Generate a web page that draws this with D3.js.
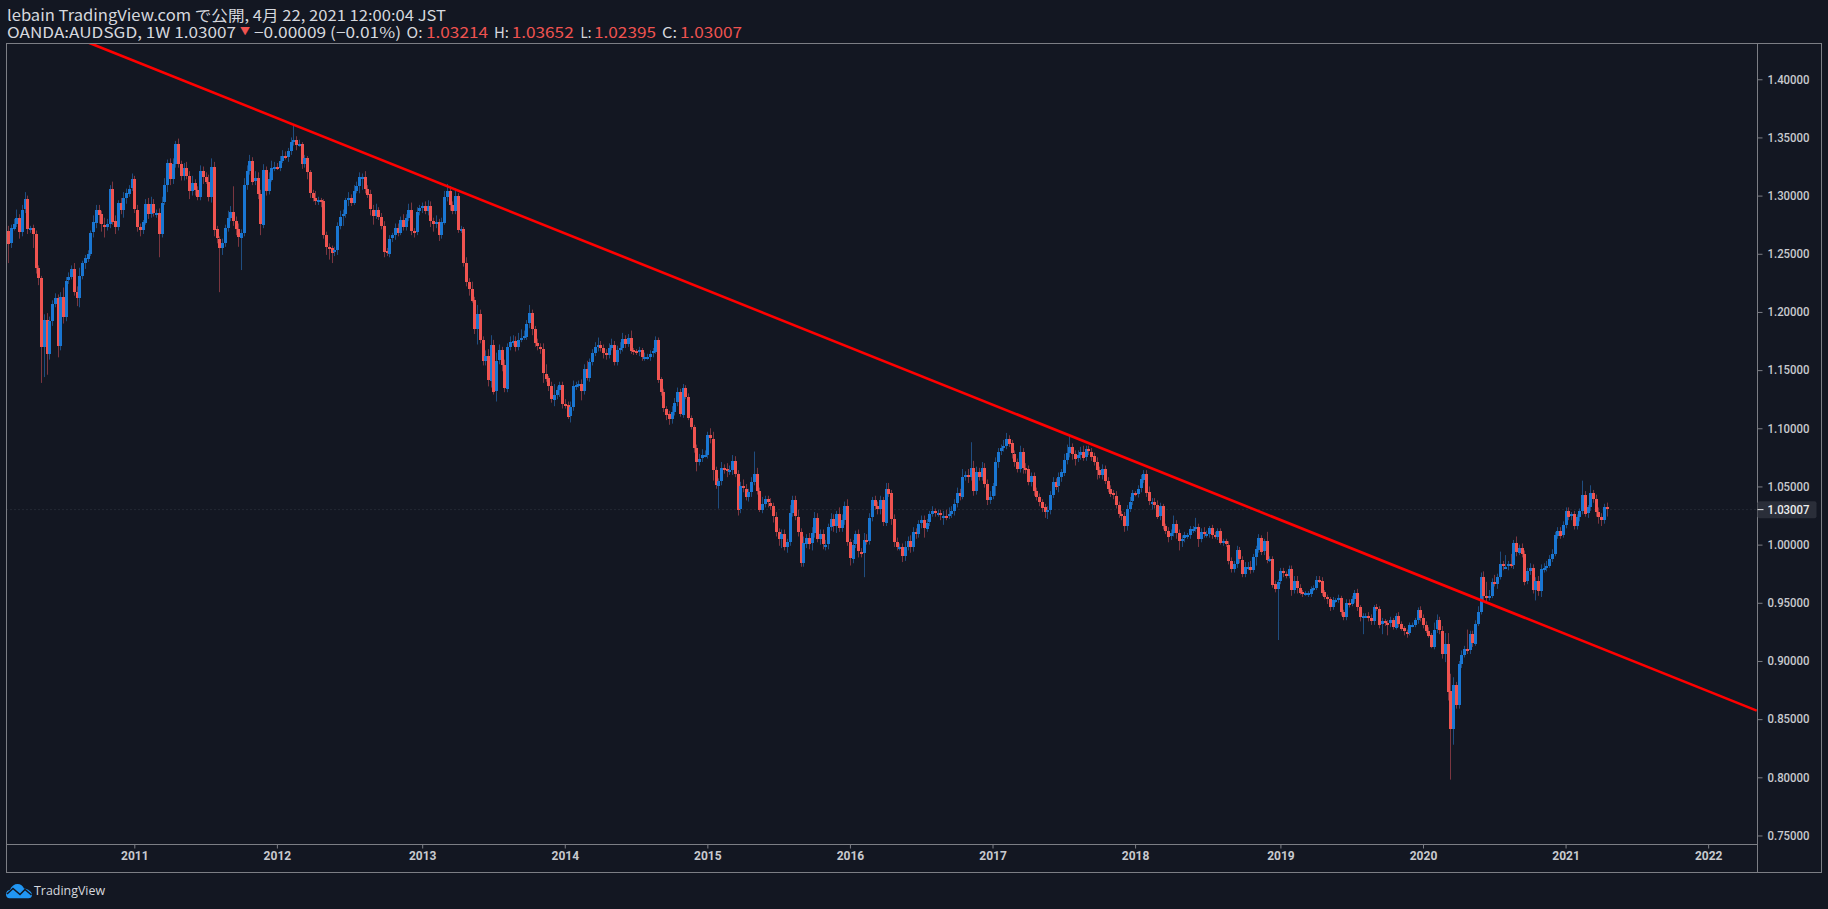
<!DOCTYPE html>
<html>
<head>
<meta charset="utf-8">
<title>AUDSGD</title>
<script src="https://cdn.jsdelivr.net/npm/d3@7"></script>
<style>
	html, body { margin: 0; padding: 0; background: #131722; }
	svg { display: block; }
	.tick text { font-family: Roboto, sans-serif; fill: #c8cacf; }
	.head { font-family: "Noto Sans CJK JP", sans-serif; font-size: 15px; fill: #d6d8de; }
</style>
</head>
<body>
<div id="figure"></div>
<script>
// weekly closes, one array per year of bars
var firstOpen = 1.253;
var closes2010 = [
	1.270,1.259,1.272,1.276,1.281,1.269,1.288,1.297,
	1.271,1.272,1.267,1.238,1.229,1.170,1.193,1.164,1.192,1.207,1.212,1.171,1.213,1.196,1.227,
	1.230,1.237,1.217,1.212,1.231,1.242,1.246,1.250,1.268,1.277,1.288,1.284,1.275,1.273,1.276,1.306,
	1.278,1.273,1.294,1.288,1.298,1.302,1.306,1.314
];
var closes2011 = [
	1.288,1.273,1.270,1.277,1.293,1.284,1.293,1.285,1.285,1.267,1.294,1.309,1.328,
	1.314,1.327,1.344,1.327,1.317,1.324,1.317,1.304,1.311,1.305,1.299,1.321,1.316,
	1.312,1.299,1.325,1.271,1.263,1.255,1.259,1.272,1.281,1.286,1.278,1.271,1.264,
	1.268,1.309,1.321,1.330,1.312,1.315,1.301,1.275,1.322,1.304,1.314,1.324,1.325
];
var closes2012 = [
	1.324,1.330,1.334,1.333,1.338,1.346,1.348,1.344,1.344,1.327,1.332,1.320,1.302,
	1.298,1.295,1.296,1.295,1.266,1.256,1.255,1.251,1.253,1.274,1.282,1.284,1.296,
	1.298,1.294,1.304,1.308,1.316,1.316,1.306,1.301,1.288,1.283,1.288,1.282,1.274,
	1.252,1.250,1.263,1.266,1.272,1.268,1.279,1.273,1.281,1.288,1.270,1.269,1.286,1.289
];
var closes2013 = [
	1.291,1.287,1.291,1.278,1.275,1.277,1.266,1.277,1.299,1.304,1.292,1.287,1.300,
	1.271,1.271,1.242,1.226,1.220,1.210,1.185,1.198,1.176,1.158,1.162,1.141,1.172,
	1.132,1.158,1.167,1.154,1.134,1.170,1.174,1.175,1.170,1.176,1.178,1.179,1.190,
	1.199,1.185,1.173,1.170,1.168,1.147,1.143,1.136,1.125,1.129,1.133,1.137,1.121
];
var closes2014 = [
	1.120,1.110,1.118,1.136,1.137,1.138,1.132,1.151,1.143,1.157,1.165,1.170,1.172,
	1.169,1.165,1.163,1.169,1.172,1.157,1.167,1.169,1.177,1.173,1.178,1.167,1.166,
	1.165,1.167,1.161,1.161,1.161,1.164,1.166,1.176,1.142,1.131,1.117,1.112,1.108,
	1.114,1.122,1.131,1.112,1.135,1.127,1.109,1.101,1.083,1.071,1.074,1.077,1.077
];
var closes2015 = [
	1.094,1.091,1.064,1.051,1.055,1.066,1.065,1.063,1.064,1.072,1.061,1.030,1.050,
	1.048,1.041,1.045,1.054,1.061,1.046,1.030,1.035,1.039,1.036,1.033,1.024,1.011,
	1.005,1.009,0.998,1.002,1.027,1.038,1.024,1.011,0.984,1.001,1.006,1.001,1.010,
	1.023,1.005,1.009,1.000,1.000,1.015,1.022,1.016,1.026,1.014,1.021,1.033,1.002
];
var closes2016 = [
	0.988,1.000,1.009,0.994,0.993,1.004,1.003,1.023,1.038,1.033,1.030,1.038,1.019,
	1.048,1.044,1.022,1.002,0.998,0.998,0.990,0.998,1.003,0.998,1.011,1.009,1.018,
	1.021,1.014,1.019,1.026,1.029,1.027,1.027,1.025,1.025,1.024,1.026,1.029,1.035,
	1.044,1.041,1.058,1.060,1.058,1.066,1.046,1.062,1.058,1.066,1.052,1.038,1.041
];
var closes2017 = [
	1.050,1.071,1.080,1.083,1.085,1.091,1.087,1.078,1.071,1.065,1.080,1.066,1.065,
	1.054,1.059,1.046,1.041,1.037,1.032,1.028,1.030,1.043,1.054,1.050,1.058,1.062,
	1.073,1.079,1.084,1.078,1.074,1.077,1.080,1.075,1.082,1.080,1.076,1.071,1.064,
	1.060,1.065,1.055,1.048,1.044,1.042,1.034,1.026,1.025,1.016,1.031,1.037,1.044
];
var closes2018 = [
	1.0435,1.048,1.056,1.061,1.045,1.037,1.037,1.034,1.024,1.033,1.016,1.012,1.007,
	1.010,1.018,1.010,1.003,1.005,1.008,1.008,1.013,1.013,1.015,1.005,1.011,1.009,
	1.009,1.014,1.008,1.007,1.012,1.002,1.003,1.000,0.986,0.979,0.983,0.995,0.987,
	0.975,0.981,0.981,0.978,0.989,0.996,1.006,0.994,1.003,0.987,0.988,0.966,0.962
];
var closes2019 = [
	0.968,0.977,0.975,0.973,0.979,0.961,0.969,0.963,0.959,0.958,0.958,0.958,0.962,
	0.963,0.970,0.969,0.959,0.955,0.953,0.946,0.952,0.952,0.954,0.942,0.938,0.950,
	0.949,0.953,0.958,0.946,0.937,0.939,0.939,0.937,0.934,0.946,0.945,0.931,0.934,
	0.933,0.932,0.935,0.929,0.939,0.932,0.928,0.925,0.924,0.931,0.931,0.935,0.944,0.937
];
var closes2020 = [
	0.931,0.926,0.922,0.912,0.927,0.935,0.926,0.906,0.915,0.874,0.841,0.879,0.862,
	0.897,0.905,0.910,0.909,0.923,0.915,0.932,0.942,0.972,0.956,0.954,0.956,0.968,
	0.966,0.972,0.983,0.981,0.981,0.983,0.982,1.001,0.993,0.997,0.992,0.968,0.977,
	0.980,0.961,0.969,0.960,0.979,0.980,0.982,0.988,0.992,1.008,1.012,1.008,1.017
];
var closes2021 = [1.029,1.024,1.026,1.016,1.024,1.029,1.043,1.027,1.032,1.044,1.039,1.028,1.024,1.021,1.0321,1.03007];

// wick length above / below the body, in thousandths, same order as the closes
var upperWicks = [
	3,4,3,4,7,3,4,6,3,2,3,3,2,2,5,6,4,3,4,3,4,8,3,4,3,5,5,7,2,3,3,2,6,4,4,3,6,4,3,6,5,2,4,5,4,3,5,
	3,4,3,2,4,5,6,4,3,4,5,6,3,4,5,3,5,3,4,5,4,6,3,3,5,4,4,6,7,4,3,2,4,3,6,5,22,4,5,3,6,5,5,3,6,5,4,5,3,6,6,4,
	3,4,5,4,3,4,12,3,4,2,3,2,2,3,6,3,2,2,3,3,2,3,3,5,4,2,5,3,5,4,4,3,5,3,4,4,5,2,3,4,3,3,2,4,4,3,5,3,5,6,2,4,3,
	3,4,5,4,3,6,3,4,5,6,4,3,6,2,3,2,5,3,6,3,8,4,3,5,6,8,4,7,5,3,5,3,5,5,4,6,7,5,3,7,3,3,4,3,5,8,2,4,9,3,3,3,
	4,3,5,5,3,3,4,4,7,3,3,4,6,3,3,3,4,5,3,4,5,5,3,3,6,2,2,3,2,4,3,3,3,3,2,2,3,2,3,5,4,4,3,3,2,3,2,2,3,4,5,4,
	3,6,6,3,2,5,3,5,4,5,4,3,4,6,4,3,4,19,5,3,6,3,3,4,3,4,3,4,4,3,7,4,4,6,3,6,3,4,5,5,4,4,4,4,3,5,4,3,6,5,4,6,
	3,4,3,4,3,6,5,4,3,4,4,4,3,5,5,3,4,4,3,3,5,4,5,4,3,3,4,4,3,3,4,2,3,3,4,5,6,4,4,5,4,7,3,5,22,6,5,4,5,4,4,5,
	3,4,3,3,5,5,3,3,3,3,5,3,4,3,3,3,3,3,2,3,3,3,4,3,4,3,5,7,9,3,3,4,4,5,3,3,3,3,4,3,4,3,3,3,3,4,3,3,3,3,4,3,
	2,3,4,3,3,5,3,3,4,3,2,2,3,3,7,3,3,3,3,2,3,3,8,3,3,4,3,2,3,3,2,2,2,2,3,3,3,4,3,3,4,4,5,3,3,3,2,2,8,2,2,3,
	2,3,3,2,3,3,4,4,3,2,2,2,2,2,3,3,3,2,2,2,3,2,3,2,2,3,3,3,3,4,2,2,2,3,3,2,3,2,3,2,2,3,2,2,3,2,2,2,2,2,2,2,3,
	3,3,3,2,6,5,3,4,9,9,15,7,3,3,4,3,17,3,3,3,5,4,5,12,5,3,6,3,11,3,10,3,9,3,6,3,4,3,3,4,3,3,4,4,4,4,3,4,3,3,3,3,
	3,3,2,3,2,2,12,3,2,7,3,4,4,3,3,4
];
var lowerWicks = [
	3,17,4,2,3,6,4,3,4,3,12,5,6,31,26,18,5,4,3,10,4,6,4,3,2,3,7,8,3,5,3,2,4,5,8,6,9,3,4,3,6,3,4,7,5,3,2,
	3,4,5,3,2,4,3,3,4,20,3,2,6,5,4,3,3,4,4,3,7,4,5,3,3,6,2,4,5,6,4,38,6,3,3,3,4,5,8,28,3,4,3,3,3,4,9,3,4,3,2,3,
	2,3,2,2,4,3,3,5,2,4,3,6,4,3,3,3,5,3,7,10,9,3,4,3,8,3,5,3,2,2,6,11,4,3,5,8,3,3,3,5,2,3,3,4,3,2,3,3,3,4,5,3,3,
	4,3,4,5,6,3,5,3,2,4,5,3,3,3,3,3,4,6,2,4,13,3,4,4,5,6,3,9,3,5,3,3,3,3,4,3,2,2,3,4,5,3,3,4,8,3,4,3,6,4,6,4,
	3,2,5,3,3,2,8,3,2,3,3,3,4,3,5,4,3,2,3,3,3,3,4,3,3,3,2,3,3,3,2,3,3,2,3,3,3,5,5,4,3,3,2,3,2,2,2,4,8,3,3,2,
	3,4,9,3,20,4,4,5,3,4,3,5,3,3,3,4,4,3,3,2,3,3,4,3,5,4,6,8,3,5,3,3,3,4,3,3,4,5,6,4,3,5,4,5,4,3,5,6,3,3,4,3,
	6,4,3,5,4,21,3,3,3,3,4,4,3,3,3,5,4,3,3,5,4,3,5,4,4,3,4,8,3,3,2,3,3,4,8,3,2,3,4,3,3,2,3,5,3,4,3,3,3,3,4,3,
	2,8,5,3,3,3,3,4,4,3,3,5,4,3,4,4,3,4,4,5,6,4,3,3,5,4,3,4,4,5,6,3,4,3,3,3,4,3,8,3,4,3,3,3,3,3,3,4,5,4,3,3,
	2,3,3,3,4,3,7,3,2,3,3,3,5,3,3,5,8,5,3,3,3,3,2,7,3,3,3,3,3,2,3,2,3,2,3,3,3,3,3,3,3,3,3,2,7,3,3,3,3,2,3,3,
	44,2,3,2,2,5,3,5,2,3,2,3,3,2,2,2,3,2,4,3,2,2,2,3,3,3,3,2,3,3,3,14,2,3,3,3,2,3,8,3,10,3,2,2,3,2,3,4,2,2,2,3,3,
	3,2,2,1,2,3,3,4,7,8,43,13,3,3,3,2,3,3,3,2,2,2,4,3,2,2,2,4,2,3,2,3,2,3,3,2,3,3,2,3,3,9,4,5,3,3,2,3,2,3,3,2,
	3,3,3,3,3,4,3,3,4,3,3,4,6,5,3,6
];

var firstBar = '2010-02-08';
var lastPrice = 1.03007;
var priceTicks = [0.75,0.80,0.85,0.90,0.95,1.00,1.05,1.10,1.15,1.20,1.25,1.30,1.35,1.40];
var yearLabels = ['2011','2012','2013','2014','2015','2016','2017','2018','2019','2020','2021','2022'];
var yearDates = ['2011-01-03','2012-01-02','2013-01-07','2014-01-06','2015-01-05','2016-01-04','2017-01-02','2018-01-01','2019-01-07','2020-01-06','2021-01-04','2022-01-03'];
var trendDates = ['2010-09-09','2022-05-07'];
var trendPrices = [1.4314,0.8573];

var W = 1828, H = 909;
var left = 6.5, top_ = 43.5, axisX = 1757.5, outerR = 1821.5, axisY = 844.5, outerB = 872.5;
var BLUE = '#1976d2', RED = '#ef5350', BLUE_W = '#1f4d80', RED_W = '#7a3640', LINE = '#7c7e85';

var parse = d3.utcParse('%Y-%m-%d');
var x = d3.scaleUtc().domain([parse('2011-01-03'), parse('2021-04-19')]).range([134.3, 1606.7]);
var y = d3.scaleLinear().domain([0.80, 1.05]).range([777.3, 486.45]);

var closes = d3.merge([closes2010,closes2011,closes2012,closes2013,closes2014,closes2015,closes2016,closes2017,closes2018,closes2019,closes2020,closes2021]);
var start = parse(firstBar);
var bars = closes.map(function(c, i) {
	var o = i ? closes[i - 1] : firstOpen;
	return {
		date: d3.utcWeek.offset(start, i),
		o: o,
		c: c,
		h: Math.max(o, c) + (upperWicks[i] || 0) / 1000,
		l: Math.min(o, c) - (lowerWicks[i] || 0) / 1000
	};
});

var svg = d3.select('#figure').append('svg').attr('width', W).attr('height', H);
svg.append('rect').attr('width', W).attr('height', H).attr('fill', '#131722');
svg.append('clipPath').attr('id', 'plot').append('rect')
	.attr('x', left).attr('y', top_).attr('width', axisX - left).attr('height', axisY - top_);

// last price line sits under the bars
var plot = svg.append('g').attr('clip-path', 'url(#plot)');
plot.append('line')
	.attr('x1', left).attr('x2', axisX).attr('y1', y(lastPrice)).attr('y2', y(lastPrice))
	.attr('stroke', '#363a45').attr('stroke-dasharray', '1 3');

// wicks
plot.selectAll('line.wick').data(bars).enter().append('line')
	.attr('class', 'wick')
	.attr('x1', function(d) { return Math.round(x(d.date)) + 0.5; })
	.attr('x2', function(d) { return Math.round(x(d.date)) + 0.5; })
	.attr('y1', function(d) { return y(d.h); })
	.attr('y2', function(d) { return y(d.l); })
	.attr('stroke', function(d) { return d.c >= d.o ? BLUE_W : RED_W; });

// bodies, snapped to whole pixels so thin ones stay solid
plot.selectAll('rect.body').data(bars).enter().append('rect')
	.attr('class', 'body')
	.attr('x', function(d) { return Math.round(x(d.date)) - 1; })
	.attr('width', 3)
	.attr('y', function(d) { return Math.round(y(Math.max(d.o, d.c))); })
	.attr('height', function(d) { return Math.max(2, Math.round(Math.abs(y(d.o) - y(d.c)))); })
	.attr('shape-rendering', 'crispEdges')
	.attr('fill', function(d) { return d.c >= d.o ? BLUE : RED; });

// trend line
var line = d3.line()
	.x(function(d) { return x(parse(d.date)); })
	.y(function(d) { return y(d.price); });
plot.append('path')
	.datum(trendDates.map(function(d, i) { return {date: d, price: trendPrices[i]}; }))
	.attr('d', line)
	.attr('fill', 'none').attr('stroke', '#ff0000').attr('stroke-width', 2.6);

// frame
svg.append('rect').attr('x', left).attr('y', top_).attr('width', outerR - left).attr('height', outerB - top_)
	.attr('fill', 'none').attr('stroke', LINE);

// axes
var yAxis = d3.axisRight(y).tickValues(priceTicks).tickFormat(d3.format('.5f')).tickSize(5).tickPadding(5);
var gy = svg.append('g').attr('transform', 'translate(' + axisX + ',0)').call(yAxis);
var xAxis = d3.axisBottom(x)
	.tickValues(yearDates.map(parse))
	.tickFormat(function(d, i) { return yearLabels[i]; })
	.tickSize(4).tickPadding(3);
var gx = svg.append('g').attr('transform', 'translate(0,' + axisY + ')').call(xAxis);
gy.select('.domain').attr('d', 'M0,' + top_ + 'V' + outerB).attr('stroke', LINE);
gx.select('.domain').attr('d', 'M' + left + ',0H' + axisX).attr('stroke', LINE);
gy.selectAll('.tick line').attr('stroke', LINE);
gx.selectAll('.tick line').attr('stroke', LINE);
gy.selectAll('text').attr('font-size', 12).attr('font-weight', 500).attr('textLength', 42).attr('lengthAdjust', 'spacingAndGlyphs');
gx.selectAll('text').attr('font-size', 12).attr('font-weight', 700);

// last price label
svg.append('rect').attr('x', axisX).attr('y', y(lastPrice) - 8.5).attr('width', 59).attr('height', 17)
	.attr('rx', 2).attr('fill', '#2a2e39');
svg.append('line').attr('x1', axisX).attr('x2', axisX + 6).attr('y1', y(lastPrice)).attr('y2', y(lastPrice)).attr('stroke', '#e8e8e8');
svg.append('text').attr('x', 1767.5).attr('y', y(lastPrice) + 4)
	.attr('font-family', 'Roboto, sans-serif').attr('font-size', 12).attr('font-weight', 500).attr('textLength', 42).attr('lengthAdjust', 'spacingAndGlyphs')
	.attr('fill', '#eceded').text(d3.format('.5f')(lastPrice));

// header
function head(txt, xpos, ypos, len, col, size) {
	svg.append('text').attr('class', 'head').attr('x', xpos).attr('y', ypos)
		.attr('textLength', len).attr('lengthAdjust', 'spacingAndGlyphs')
		.style('fill', col || null).style('font-size', size ? size + 'px' : null).text(txt);
}
head('lebain TradingView.com で公開, 4月 22, 2021 12:00:04 JST', 7, 20.5, 439);
head('OANDA:AUDSGD, 1W 1.03007', 7, 38, 229);
head('▼', 240, 34.5, 10, RED, 10);
head('−0.00009 (−0.01%)', 254, 38, 147);
head('O:', 406.5, 38, 16);
head('1.03214', 426, 38, 62, RED);
head('H:', 494, 38, 15);
head('1.03652', 511.7, 38, 62, RED);
head('L:', 580.6, 38, 11);
head('1.02395', 594, 38, 62, RED);
head('C:', 662, 38, 15);
head('1.03007', 680, 38, 62, RED);

// footer logo and name
svg.append('path')
	.attr('d', 'M6 894.5C6 891.5 8 890 10 889.8C11.5 886 14.5 884 17.5 884C20.5 884 23 886 24 888.5C28 889 32 891.5 32 895C32 897 30.5 898.3 28.5 898.3H9.5C7.5 898.3 6 896.8 6 894.5Z')
	.attr('fill', '#2196f3');
svg.append('path')
	.attr('d', 'M7 894L13 888.5L20 894.5L25 889.5L31.5 895')
	.attr('fill', 'none').attr('stroke', '#131722').attr('stroke-width', 1.6);
svg.append('text').attr('x', 34).attr('y', 895)
	.attr('font-family', 'Open Sans, sans-serif').attr('font-size', 12.5)
	.attr('textLength', 71).attr('lengthAdjust', 'spacingAndGlyphs')
	.attr('fill', '#d6d8de').text('TradingView');
</script>
</body>
</html>
